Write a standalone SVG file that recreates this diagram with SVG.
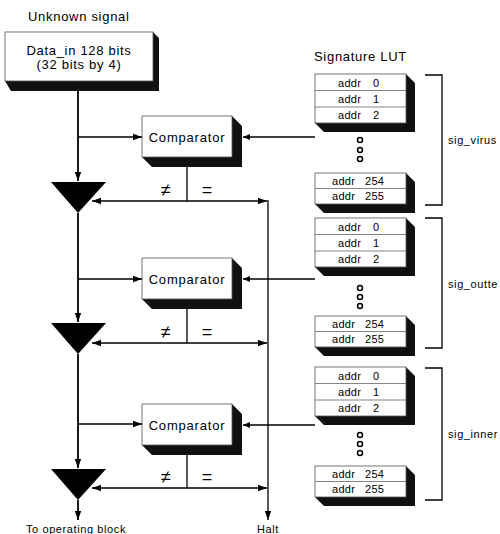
<svg xmlns="http://www.w3.org/2000/svg" width="500" height="534" viewBox="0 0 500 534">
<defs>
<marker id="ah" markerWidth="10" markerHeight="8" refX="9" refY="4" orient="auto" markerUnits="userSpaceOnUse">
<path d="M0,0.8 L9,4 L0,7.2 Z" fill="#000"/>
</marker>
<marker id="ahs" markerWidth="8" markerHeight="7" refX="7" refY="3.5" orient="auto" markerUnits="userSpaceOnUse">
<path d="M0,0.5 L7,3.5 L0,6.5 Z" fill="#000"/>
</marker>
</defs>
<style>
text{font-family:"Liberation Sans",Arial,sans-serif;fill:#000}
.lbl{font-size:13px;letter-spacing:0.7px}
.cmp{font-size:13px;letter-spacing:0.8px;text-anchor:middle}
.addr{font-size:11px;letter-spacing:0.3px}
.sm{font-size:11px;letter-spacing:0.6px}
.sym{font-size:18px;text-anchor:middle}
.face{fill:#fff;stroke:#555;stroke-width:0.8}
.shd{fill:#111}
.sep{stroke:#666;stroke-width:0.8}
.ln{stroke:#000;stroke-width:1.3;fill:none}
.mn{stroke:#000;stroke-width:1.8;fill:none}
.dot{fill:#fff;stroke:#000;stroke-width:1.5}
</style>

<text class="lbl" x="28" y="21">Unknown signal</text>
<text class="lbl" x="314" y="61">Signature LUT</text>

<g id="data_in">
<polygon class="shd" points="153,32 159,38 159,91 11,91 5,81 153,81"/>
<rect class="face" x="5" y="32" width="148" height="49"/>
<text class="lbl" x="79" y="55" text-anchor="middle">Data_in 128 bits</text>
<text class="lbl" x="79" y="69" text-anchor="middle">(32 bits by 4)</text>
</g>

<g id="comparator1">
<polygon class="shd" points="232,116 242,126 242,167 152,167 142,157 232,157"/>
<rect class="face" x="142" y="116" width="90" height="41"/>
<text class="cmp" x="187" y="142">Comparator</text>
</g>
<g id="comparator2">
<polygon class="shd" points="232,258 242,268 242,309 152,309 142,299 232,299"/>
<rect class="face" x="142" y="258" width="90" height="41"/>
<text class="cmp" x="187" y="284">Comparator</text>
</g>
<g id="comparator3">
<polygon class="shd" points="232,404 242,414 242,455 152,455 142,445 232,445"/>
<rect class="face" x="142" y="404" width="90" height="41"/>
<text class="cmp" x="187" y="430">Comparator</text>
</g>

<g id="mux1"><polygon points="51,182 106,182 78,213" fill="#000"/></g>
<g id="mux2"><polygon points="51,323 106,323 78,354" fill="#000"/></g>
<g id="mux3"><polygon points="51,469 106,469 78,500" fill="#000"/></g>

<g id="lut_virus">
<polygon class="shd" points="406,74 415,83 415,132 324,132 315,123 406,123"/>
<rect class="face" x="315" y="74" width="91" height="49"/>
<line class="sep" x1="315" y1="90.5" x2="406" y2="90.5"/>
<line class="sep" x1="315" y1="107" x2="406" y2="107"/>
<text class="addr" x="338" y="87">addr</text><text class="addr" x="373" y="87">0</text>
<text class="addr" x="338" y="103">addr</text><text class="addr" x="373" y="103">1</text>
<text class="addr" x="338" y="119">addr</text><text class="addr" x="373" y="119">2</text>
<circle class="dot" cx="360" cy="140" r="2.5"/>
<circle class="dot" cx="360" cy="150" r="2.5"/>
<circle class="dot" cx="360" cy="159" r="2.5"/>
<polygon class="shd" points="406,173 415,182 415,213 324,213 315,204 406,204"/>
<rect class="face" x="315" y="173" width="91" height="31"/>
<line class="sep" x1="315" y1="188.5" x2="406" y2="188.5"/>
<text class="addr" x="332" y="185">addr</text><text class="addr" x="365" y="185">254</text>
<text class="addr" x="332" y="200">addr</text><text class="addr" x="365" y="200">255</text>
<polyline class="ln" points="425,75 442,75 442,205 425,205"/>
<text class="sm" x="448" y="144">sig_virus</text>
</g>

<g id="lut_outte">
<polygon class="shd" points="406,218 415,227 415,276 324,276 315,267 406,267"/>
<rect class="face" x="315" y="218" width="91" height="49"/>
<line class="sep" x1="315" y1="234.5" x2="406" y2="234.5"/>
<line class="sep" x1="315" y1="251" x2="406" y2="251"/>
<text class="addr" x="338" y="231">addr</text><text class="addr" x="373" y="231">0</text>
<text class="addr" x="338" y="247">addr</text><text class="addr" x="373" y="247">1</text>
<text class="addr" x="338" y="263">addr</text><text class="addr" x="373" y="263">2</text>
<circle class="dot" cx="360" cy="288" r="2.5"/>
<circle class="dot" cx="360" cy="297" r="2.5"/>
<circle class="dot" cx="360" cy="306" r="2.5"/>
<polygon class="shd" points="406,316 415,325 415,356 324,356 315,347 406,347"/>
<rect class="face" x="315" y="316" width="91" height="31"/>
<line class="sep" x1="315" y1="331.5" x2="406" y2="331.5"/>
<text class="addr" x="332" y="328">addr</text><text class="addr" x="365" y="328">254</text>
<text class="addr" x="332" y="343">addr</text><text class="addr" x="365" y="343">255</text>
<polyline class="ln" points="425,218 442,218 442,348 425,348"/>
<text class="sm" x="448" y="288">sig_outte</text>
</g>

<g id="lut_inner">
<polygon class="shd" points="406,367 415,376 415,425 324,425 315,416 406,416"/>
<rect class="face" x="315" y="367" width="91" height="49"/>
<line class="sep" x1="315" y1="383.5" x2="406" y2="383.5"/>
<line class="sep" x1="315" y1="400" x2="406" y2="400"/>
<text class="addr" x="338" y="380">addr</text><text class="addr" x="373" y="380">0</text>
<text class="addr" x="338" y="396">addr</text><text class="addr" x="373" y="396">1</text>
<text class="addr" x="338" y="412">addr</text><text class="addr" x="373" y="412">2</text>
<circle class="dot" cx="360" cy="435" r="2.5"/>
<circle class="dot" cx="360" cy="444" r="2.5"/>
<circle class="dot" cx="360" cy="453" r="2.5"/>
<polygon class="shd" points="406,466 415,475 415,506 324,506 315,497 406,497"/>
<rect class="face" x="315" y="466" width="91" height="31"/>
<line class="sep" x1="315" y1="481.5" x2="406" y2="481.5"/>
<text class="addr" x="332" y="478">addr</text><text class="addr" x="365" y="478">254</text>
<text class="addr" x="332" y="493">addr</text><text class="addr" x="365" y="493">255</text>
<polyline class="ln" points="425,368 442,368 442,500 425,500"/>
<text class="sm" x="448" y="438">sig_inner</text>
</g>

<g id="connectors">
<line class="mn" x1="78" y1="91" x2="78" y2="181" marker-end="url(#ah)"/>
<line class="mn" x1="78" y1="213" x2="78" y2="322" marker-end="url(#ah)"/>
<line class="mn" x1="78" y1="354" x2="78" y2="468" marker-end="url(#ah)"/>
<line class="mn" x1="78" y1="500" x2="78" y2="520" marker-end="url(#ah)"/>
<line class="ln" x1="78" y1="137" x2="142" y2="137" marker-end="url(#ah)"/>
<line class="ln" x1="78" y1="279" x2="142" y2="279" marker-end="url(#ah)"/>
<line class="ln" x1="78" y1="424" x2="142" y2="424" marker-end="url(#ah)"/>
<line class="ln" x1="315" y1="137" x2="243" y2="137" marker-end="url(#ahs)"/>
<line class="ln" x1="315" y1="279" x2="243" y2="279" marker-end="url(#ahs)"/>
<line class="ln" x1="315" y1="425" x2="243" y2="425" marker-end="url(#ahs)"/>
<line class="ln" x1="187" y1="167" x2="187" y2="201"/>
<line class="ln" x1="187" y1="309" x2="187" y2="343"/>
<line class="ln" x1="187" y1="455" x2="187" y2="488"/>
<line class="ln" x1="187" y1="201" x2="92" y2="201" marker-end="url(#ah)"/>
<line class="ln" x1="187" y1="201" x2="267" y2="201" marker-end="url(#ah)"/>
<line class="ln" x1="187" y1="343" x2="92" y2="343" marker-end="url(#ah)"/>
<line class="ln" x1="187" y1="343" x2="267" y2="343" marker-end="url(#ah)"/>
<line class="ln" x1="187" y1="488" x2="92" y2="488" marker-end="url(#ah)"/>
<line class="ln" x1="187" y1="488" x2="267" y2="488" marker-end="url(#ah)"/>
<line class="ln" x1="268" y1="200" x2="268" y2="520" marker-end="url(#ah)"/>
</g>

<text class="sym" x="166" y="196">≠</text><text class="sym" x="207" y="196">=</text>
<text class="sym" x="166" y="338">≠</text><text class="sym" x="207" y="338">=</text>
<text class="sym" x="166" y="483">≠</text><text class="sym" x="207" y="483">=</text>

<text class="sm" x="76" y="533" text-anchor="middle">To operating block</text>
<text class="sm" x="268" y="533" text-anchor="middle">Halt</text>
</svg>
